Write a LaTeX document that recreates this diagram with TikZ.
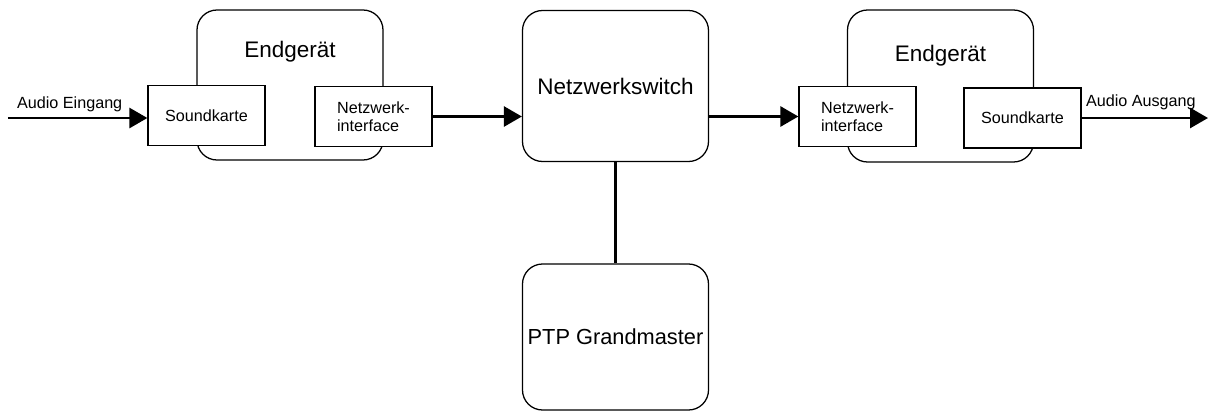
\documentclass[tikz,border=0pt]{standalone}
\usepackage{fontspec}
\setmainfont{Liberation Sans}
\usetikzlibrary{arrows.meta}

\begin{document}
\begin{tikzpicture}[
  device/.style={draw,rounded corners=0.5cm,line width=0.9pt,minimum width=4.65cm,minimum height=3.75cm},
  part/.style={draw,fill=white,line width=0.9pt,minimum width=2.925cm,minimum height=1.5cm,align=left,font=\fontsize{11.5}{13}\selectfont},
  title/.style={font=\fontsize{16}{18}\selectfont},
  flow/.style={line width=2pt,-{Triangle[length=0.45cm,width=0.5cm]}}
]
\useasboundingbox (0,0) rectangle (30.2,-10.3);

% Endgeraet links
\node[device] (devL) at (7.25,-2.125) {};
\node[title] (titleL) at (7.25,-1.3) {Endgerät};
\node[part] (sndL) at (5.1625,-2.8875) {Soundkarte};
\node[part] (netL) at (9.3375,-2.9125) {Netzwerk-\\interface};

% Switch und Grandmaster
\node[device,title,minimum height=3.775cm] (sw) at (15.3875,-2.15) {Netzwerkswitch};
\node[device,title,minimum height=3.65cm,inner sep=0pt,font=\fontsize{15.5}{18}\selectfont] (ptp) at (15.3875,-8.425) {PTP Grandmaster};

% Endgeraet rechts
\node[device,minimum height=3.8cm] (devR) at (23.5125,-2.15) {};
\node[title] (titleR) at (23.5125,-1.4) {Endgerät};
\node[part] (netR) at (21.4375,-2.9125) {Netzwerk-\\interface};
\node[part] (sndR) at (25.5625,-2.95) {Soundkarte};

\coordinate (in) at (0.2,-2.95);
\coordinate (out) at (30.2,-2.95);

\draw[flow] (in) -- node[above,font=\fontsize{11.5}{13}\selectfont,xshift=-0.2cm] {Audio Eingang} (sndL.west |- in);
\draw[flow] (netL.east) -- (netL.east -| sw.west);
\draw[flow] (sw.east |- netR.west) -- (netR.west);
\draw[flow] (sndR.east) -- node[above,font=\fontsize{11.5}{13}\selectfont,xshift=-0.1cm,yshift=0.05cm] {Audio Ausgang} (out);
\draw[line width=2pt] (sw.south) -- (ptp.north);
\end{tikzpicture}
\end{document}
